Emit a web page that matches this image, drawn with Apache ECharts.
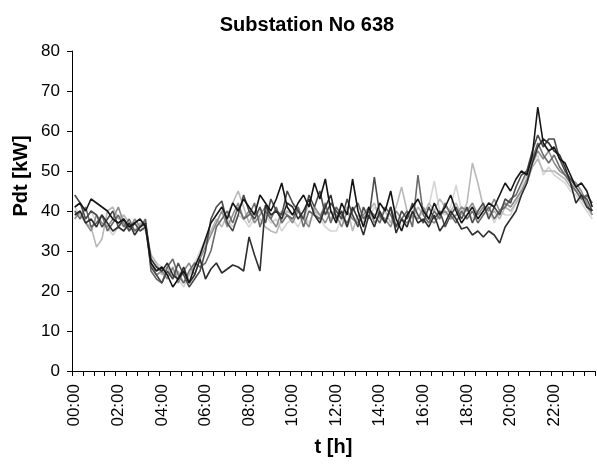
<!DOCTYPE html>
<html>
<head>
<meta charset="utf-8">
<script src="https://cdn.jsdelivr.net/npm/echarts@6/dist/echarts.min.js"></script>
<style>html,body{margin:0;padding:0;background:#fff}#c{width:597px;height:466px}</style>
</head>
<body>
<div id="c"></div>
<script>
// 15-minute categories 00:00 .. 23:45
const categories = [];
for (let h = 0; h < 24; h++) for (let m = 0; m < 60; m += 15)
  categories.push(String(h).padStart(2, '0') + ':' + String(m).padStart(2, '0'));

const yTicks = [0, 10, 20, 30, 40, 50, 60, 70, 80];

const s1 = [
  41, 42, 40, 43, 42, 41, 40, 38,
  37, 38, 36, 37, 38, 36, 27, 25,
  26, 24, 21, 23, 25, 22, 26, 29,
  33, 37, 39, 41, 38, 42, 40, 43,
  41, 39, 44, 42, 40, 43, 47, 41,
  39, 42, 44, 41, 47, 43, 48, 40,
  37, 42, 39, 48, 40, 36, 41, 38,
  42, 40, 45, 38, 35, 39, 41, 43,
  40, 38, 42, 39, 41, 44, 40, 37,
  39, 41, 38, 40, 42, 41, 44, 47,
  45, 48, 50, 49, 54, 66, 57, 55,
  56, 53, 52, 49, 46, 47, 45, 41
];
const s2 = [
  39, 40, 37, 38, 36, 39, 37, 35,
  36, 35, 37, 34, 36, 37, 28, 26,
  25, 27, 24, 23, 26, 22, 24, 28,
  23, 25.5, 27, 24.5, 25.5, 26.5, 26, 25,
  33.5, 29, 25, 41.5, 39, 40, 38, 42,
  41, 38, 40, 43, 39, 37, 41, 44,
  38, 40, 36, 41, 38, 34, 39, 36,
  40, 37, 41, 34.5, 38, 36, 40, 37,
  38, 36, 39, 35, 37, 40, 38, 35.5,
  36, 34, 35, 33.5, 35, 34, 32, 36,
  38, 40, 44, 47, 52, 56, 58, 57,
  55, 54, 51, 47, 42, 44, 41, 40
];
const s3 = [
  44, 42, 38, 40, 39, 36, 38, 40,
  36, 38, 35, 37, 35, 36, 26, 24,
  22, 25, 23, 27, 24, 21, 23, 25,
  30, 38, 41, 42.5, 37, 35, 39, 44,
  40, 38, 41, 37, 43, 40, 39, 45,
  42, 40, 38, 44, 41, 45, 39, 42,
  40, 38, 43, 39, 36, 41, 38, 48.5,
  39, 37, 41, 36, 40, 38, 42, 39,
  37, 41, 38, 40, 36, 39, 41, 38,
  41, 37, 40, 42, 38, 41, 39, 43,
  42, 46, 49, 50, 55, 59, 56, 58,
  58, 53, 50, 48, 46, 44, 43, 40
];
const s4 = [
  40, 38, 41, 36, 37, 39, 35, 37,
  39, 36, 38, 35, 36, 38, 25, 23,
  22, 26, 28, 24, 22, 25, 27, 26,
  27, 30, 36, 38, 40, 37, 41, 38,
  39, 42, 36, 40, 38, 41, 37, 39,
  38, 41, 36, 40, 39, 38, 42, 37,
  41, 39, 37, 40, 42, 38, 40, 39,
  37, 41, 39, 36, 38, 40, 36, 49,
  39, 37, 40, 38, 42, 39, 37, 40,
  38, 40, 37, 39, 41, 38, 40, 41,
  43, 44, 47, 50, 53, 57, 54, 52,
  54, 51, 49, 47, 45, 43, 44, 42
];
const s5 = [
  38, 40, 37, 35, 39, 37, 36, 38,
  41, 37, 35, 38, 36, 37, 27, 24,
  25, 23, 26, 22, 25, 27, 24, 28,
  31, 34, 37, 40, 36, 39, 42, 38,
  40, 37, 39, 41, 38, 36, 40, 39,
  37, 40, 38, 36, 41, 39, 37, 40,
  39, 36, 40, 38, 37, 39, 41, 37,
  39, 38, 36, 40, 38, 37, 39, 38,
  41, 38, 37, 39, 40, 38, 39, 41,
  40, 42, 39, 41, 40, 43, 40, 42,
  41, 43, 45, 48, 52, 55, 53, 55,
  52, 50, 49, 48, 47, 45, 42, 39
];
const s6 = [
  40, 39, 37, 36, 31, 33, 40, 41,
  38, 39, 37, 35, 37, 36, 29, 27,
  24, 26, 23, 25, 22, 24, 26, 29,
  32, 35, 38, 36, 39, 42, 45, 41,
  37, 40, 38, 36, 35, 34.5, 38, 40,
  39, 41, 38, 42, 40, 39, 41, 38,
  40, 38, 41, 35, 39, 37, 40, 42,
  38, 40, 37, 41, 46, 40, 38, 41,
  39, 42, 40, 43, 41, 40, 42, 39,
  42, 52, 47, 41, 39, 40, 38, 41,
  40, 42, 44, 47, 51, 53, 50, 50,
  50, 49, 48, 46, 45, 43, 41, 39
];
const s7 = [
  41, 39, 38, 40, 37, 39, 36, 34,
  36, 37, 35, 38, 36, 35, 29, 27,
  26, 24, 25, 23, 21, 24, 27, 30,
  33, 35, 37, 40, 38, 36, 39, 38,
  36, 38, 40, 39, 37, 38, 35, 37,
  38, 36, 39, 37, 40, 38, 36, 35,
  35, 38, 36, 39, 37, 40, 38, 41,
  39, 37, 40, 38, 36, 39, 41, 38,
  40, 41, 47.5, 40, 39, 41, 46.5, 40,
  41, 38, 40, 39, 41, 37, 40, 39,
  39, 42, 46, 49, 52, 54, 49, 51,
  49, 48, 47, 45, 44, 42, 40, 38
];

const seriesData = [s7, s6, s5, s4, s3, s2, s1];
const seriesColors = ['#d6d6d6', '#b8b8b8', '#8c8c8c', '#6a6a6a', '#4a4a4a', '#2e2e2e', '#141414'];

const FONT = 'Liberation Sans, Arial, sans-serif';
const chart = echarts.init(document.getElementById('c'), null, { renderer: 'canvas' });
chart.setOption({
  animation: false,
  backgroundColor: '#fff',
  title: {
    text: 'Substation No 638',
    left: 302, top: 10, textAlign: 'center',
    textStyle: { fontFamily: FONT, fontWeight: 'bold', fontSize: 20, color: '#000' }
  },
  graphic: [{
    type: 'text',
    x: 21, y: 176,
    rotation: Math.PI / 2,
    style: {
      text: 'Pdt [kW]',
      font: 'bold 20px ' + FONT,
      fill: '#000',
      align: 'center',
      verticalAlign: 'middle'
    }
  }],
  grid: { left: 72, right: 2, top: 51, bottom: 95, containLabel: false },
  xAxis: {
    type: 'category',
    data: categories,
    boundaryGap: true,
    name: 't [h]',
    nameLocation: 'middle',
    nameGap: 66,
    nameTextStyle: { fontFamily: FONT, fontWeight: 'bold', fontSize: 20, color: '#000' },
    axisLine: { lineStyle: { color: '#000', width: 1 } },
    axisTick: { show: true, interval: 1, length: 5, inside: false, lineStyle: { color: '#000' } },
    axisLabel: {
      interval: 7, rotate: 90, margin: 13,
      fontFamily: FONT, fontSize: 17, color: '#000'
    },
    splitLine: { show: false }
  },
  yAxis: {
    type: 'value',
    min: yTicks[0], max: yTicks[yTicks.length - 1], interval: 10,
    axisLine: { show: true, lineStyle: { color: '#000', width: 1 } },
    axisTick: { show: true, length: 5, lineStyle: { color: '#000' } },
    axisLabel: { margin: 12, fontFamily: FONT, fontSize: 17, color: '#000' },
    splitLine: { show: false }
  },
  series: seriesData.map((d, k) => ({
    type: 'line',
    data: d,
    symbol: 'none',
    smooth: false,
    lineStyle: { color: seriesColors[k], width: 1.6 },
    itemStyle: { color: seriesColors[k] }
  }))
});
</script>
</body>
</html>
